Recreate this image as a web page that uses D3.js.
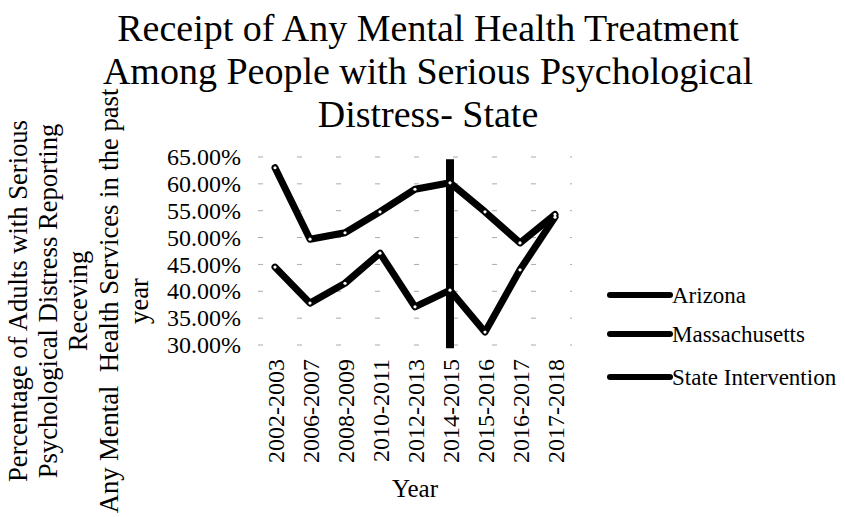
<!DOCTYPE html>
<html>
<head>
<meta charset="utf-8">
<script src="https://cdn.jsdelivr.net/npm/d3@7"></script>
<style>
  body { margin: 0; background: #fff; }
  text { font-family: "Liberation Serif", "Times New Roman", serif; fill: #000; }
</style>
</head>
<body>
<div id="chart"></div>
<script>
var width = 845;
var height = 517;

// data
var categories = ['2002-2003', '2006-2007', '2008-2009', '2010-2011', '2012-2013',
                  '2014-2015', '2015-2016', '2016-2017', '2017-2018'];
var arizona = [44.5, 37.8, 41.5, 47.1, 37.1, 40.2, 32.4, 44.0, 53.8];
var massachusetts = [63.0, 49.7, 50.9, 54.8, 59.0, 60.2, 54.8, 49.0, 54.3];
var interventionCategory = '2014-2015';
var interventionRange = [29.4, 64.6];
var yTicks = [30, 35, 40, 45, 50, 55, 60, 65];
var seriesNames = ['Arizona', 'Massachusetts', 'State Intervention'];

var titleLines = ['Receipt of Any Mental Health Treatment',
                  'Among People with Serious Psychological',
                  'Distress- State'];
var yTitleLines = ['Percentage of Adults with Serious',
                   'Psychological Distress Reporting',
                   'Receving',
                   'Any Mental  Health Services in the past',
                   'year'];

var svg = d3.select('#chart')
    .append('svg')
    .attr('width', width)
    .attr('height', height);

//scales
var x = d3.scalePoint()
    .domain(categories)
    .range([257.5, 572.5])
    .padding(0.5);

var y = d3.scaleLinear()
    .domain([30, 65])
    .range([345, 157]);

var formatTick = function (d) { return d.toFixed(2) + '%'; };

//faint gridlines, broken like the scan
svg.append('g')
    .selectAll('line')
    .data(yTicks)
    .enter()
    .append('line')
    .attr('x1', 258)
    .attr('x2', 572)
    .attr('y1', function (d) { return y(d); })
    .attr('y2', function (d) { return y(d); })
    .attr('stroke', '#aaa')
    .attr('stroke-width', 1)
    .attr('stroke-dasharray', '5 34');

//y axis labels
var yAxis = d3.axisLeft(y)
    .tickValues(yTicks)
    .tickFormat(formatTick)
    .tickSize(0)
    .tickPadding(0);

var yG = svg.append('g')
    .attr('transform', 'translate(241,0)')
    .call(yAxis);
yG.select('.domain').remove();
yG.selectAll('text')
    .style('font-family', '"Liberation Serif", serif')
    .style('font-size', '24px')
    .attr('fill', '#000');

//x axis labels
var xAxis = d3.axisBottom(x).tickSize(0).tickPadding(0);
var xG = svg.append('g')
    .attr('transform', 'translate(0,359)')
    .call(xAxis);
xG.select('.domain').remove();
xG.selectAll('text')
    .style('font-family', '"Liberation Serif", serif')
    .style('font-size', '24px')
    .attr('fill', '#000')
    .attr('text-anchor', 'end')
    .attr('dy', '0.35em')
    .attr('y', 0)
    .attr('transform', 'rotate(-90)');

//series lines
var line = d3.line()
    .x(function (d, i) { return x(categories[i]); })
    .y(function (d) { return y(d); });

[arizona, massachusetts].forEach(function (values) {
    svg.append('path')
        .datum(values)
        .attr('fill', 'none')
        .attr('stroke', '#000')
        .attr('stroke-width', 7)
        .attr('stroke-linejoin', 'round')
        .attr('stroke-linecap', 'round')
        .attr('d', line);
});

//state intervention bar
svg.append('line')
    .attr('x1', x(interventionCategory))
    .attr('x2', x(interventionCategory))
    .attr('y1', y(interventionRange[0]))
    .attr('y2', y(interventionRange[1]))
    .attr('stroke', '#000')
    .attr('stroke-width', 8);

//small pale markers left on the joints
[arizona, massachusetts].forEach(function (values) {
    svg.append('g')
        .selectAll('circle')
        .data(values)
        .enter()
        .append('circle')
        .attr('cx', function (d, i) { return x(categories[i]); })
        .attr('cy', function (d) { return y(d); })
        .attr('r', 1.6)
        .attr('fill', '#fff');
});

//title
svg.append('g')
    .selectAll('text')
    .data(titleLines)
    .enter()
    .append('text')
    .attr('x', 428)
    .attr('y', function (d, i) { return 41 + i * 43; })
    .attr('text-anchor', 'middle')
    .style('font-size', '38px')
    .text(function (d) { return d; });

//y title
svg.append('g')
    .selectAll('text')
    .data(yTitleLines)
    .enter()
    .append('text')
    .attr('text-anchor', 'middle')
    .style('font-size', '26.6px')
    .style('white-space', 'pre')
    .attr('transform', function (d, i) {
        return 'translate(' + (26.5 + i * 30.4) + ',301) rotate(-90)';
    })
    .text(function (d) { return d; });

//x title
svg.append('text')
    .attr('x', 415)
    .attr('y', 497)
    .attr('text-anchor', 'middle')
    .style('font-size', '25px')
    .text('Year');

//legend
var legend = svg.append('g')
    .selectAll('g')
    .data(seriesNames)
    .enter()
    .append('g')
    .attr('transform', function (d, i) { return 'translate(610,' + [295, 334, 377][i] + ')'; });

legend.append('line')
    .attr('x1', 0)
    .attr('x2', 60)
    .attr('stroke', '#000')
    .attr('stroke-width', 6)
    .attr('stroke-linecap', 'round');

legend.append('text')
    .attr('x', 62)
    .attr('dy', '0.35em')
    .style('font-size', '23px')
    .text(function (d) { return d; });
</script>
</body>
</html>
